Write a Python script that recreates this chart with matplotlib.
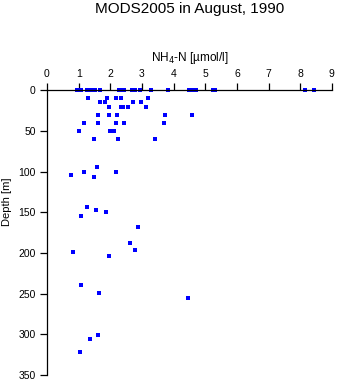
import matplotlib
matplotlib.use("Agg")
import matplotlib.pyplot as plt

plt.rcParams['font.family'] = ['Liberation Sans', 'DejaVu Sans']

# NH4-N [umol/l] and depth [m]
nh4 = [0.94, 1.02, 1.08, 1.27, 1.33, 1.41, 1.52, 1.68, 2.28, 2.41, 2.44, 2.68, 2.79, 2.94,
       3.27, 3.83, 4.49, 4.57, 4.70, 5.25, 5.32, 8.16, 8.43,
       1.30, 1.90, 2.18, 2.35, 3.19,
       1.68, 1.84, 2.72, 2.97,
       1.97, 2.35, 2.39, 2.57, 3.12,
       1.62, 1.97, 2.22, 3.73, 4.58,
       1.18, 1.62, 2.19, 2.44, 3.70,
       1.02, 2.00, 2.12,
       1.49, 2.25, 3.42,
       0.77, 1.18, 1.49, 1.59, 2.19,
       1.27, 1.08, 1.55, 1.87,
       2.89, 2.61, 2.79, 0.83, 1.97,
       1.08, 1.65, 4.46,
       1.62, 1.37, 1.03]
depth = [0] * 23 + \
        [10] * 5 + \
        [15] * 4 + \
        [20, 20, 21, 20, 20] + \
        [30] * 5 + \
        [40] * 5 + \
        [50] * 3 + \
        [60] * 3 + \
        [104, 100, 106, 94, 101] + \
        [144, 154, 147, 150] + \
        [168, 188, 196, 199, 204] + \
        [239, 249, 255] + \
        [301, 305, 321]

fig = plt.figure(figsize=(3.38, 3.84), dpi=100)
ax = fig.add_axes([0.139, 0.023, 0.843, 0.742])

ax.plot(nh4, depth, 's', color='#0000ff', markersize=2.2, markeredgewidth=0, clip_on=False)

ax.set_xlim(0, 9)
ax.set_ylim(350, 0)
ax.set_xticks(range(0, 10))
ax.set_yticks(range(0, 351, 50))

ax.xaxis.set_ticks_position('top')
ax.xaxis.set_label_position('top')
ax.spines['bottom'].set_visible(False)
ax.spines['right'].set_visible(False)
ax.spines['top'].set_linewidth(0.9)
ax.spines['left'].set_linewidth(0.9)
ax.tick_params(direction='out', length=5, width=0.9, labelsize=7.5, pad=3)

ax.set_xlabel(r'NH$_4$-N [µmol/l]', fontsize=8.5, labelpad=6)
ax.set_ylabel('Depth [m]', fontsize=8)
ax.yaxis.set_label_coords(-0.122, 0.607)
fig.text(0.561, 0.976, 'MODS2005 in August, 1990', fontsize=11, ha='center', va='center')

fig.savefig('out.png', dpi=100)
